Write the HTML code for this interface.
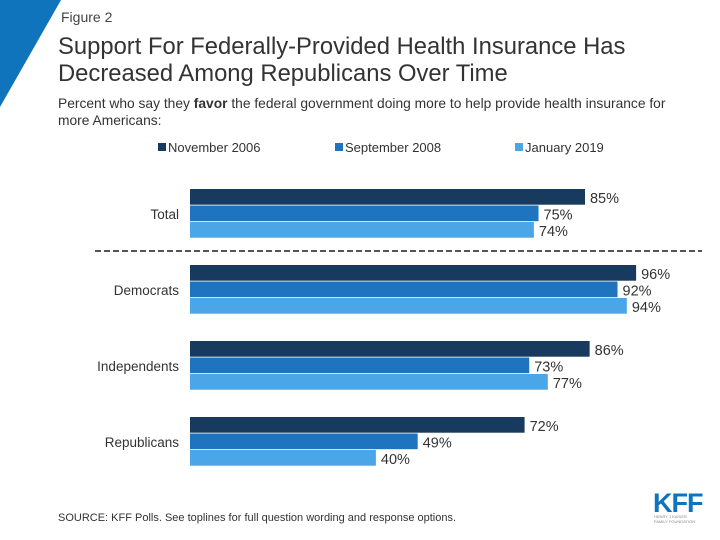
<!DOCTYPE html>
<html><head><meta charset="utf-8"><style>
body{margin:0;background:#fff;font-family:"Liberation Sans",sans-serif;}
#wrap{position:relative;width:720px;height:540px;overflow:hidden;background:#fff;}
.t{position:absolute;white-space:nowrap;color:#333;}
</style></head><body>
<div id="wrap">
<svg width="720" height="540" style="position:absolute;left:0;top:0"><polygon points="0,0 61,0 0,107" fill="#0f74bb"/></svg>
<div class="t" style="left:61px;top:9px;font-size:14px;color:#444">Figure 2</div>
<div class="t" style="left:58px;top:33px;font-size:23.8px;line-height:27px;color:#333">Support For Federally-Provided Health Insurance Has<br>Decreased Among Republicans Over Time</div>
<div class="t" style="left:58px;top:95px;font-size:13.8px;line-height:17px;color:#333">Percent who say they <b>favor</b> the federal government doing more to help provide health insurance for<br>more Americans:</div>
<svg id="chart" width="720" height="540" style="position:absolute;left:0;top:0"></svg>
<div class="t" style="left:58px;top:512px;font-size:11px;color:#333">SOURCE: KFF Polls. See toplines for full question wording and response options.</div>
<div class="t" style="left:653px;top:488px;font-size:27px;font-weight:bold;color:#0f74bb;letter-spacing:-1px">KFF</div>
<div class="t" style="left:654px;top:514px;font-size:4px;line-height:5px;color:#888">HENRY J KAISER<br>FAMILY FOUNDATION</div>
</div>
<script>
const categories=["Total","Democrats","Independents","Republicans"];
const seriesNames=["November 2006","September 2008","January 2019"];
const nov2006=[85,96,86,72];
const sep2008=[75,92,73,49];
const jan2019=[74,94,77,40];
const series=[nov2006,sep2008,jan2019];
const colors=["#173a5e","#1f74bf","#4aa6e6"];
const svg=document.getElementById('chart');
const NS="http://www.w3.org/2000/svg";
const x0=190, pxPer=4.647;
const xs=v=>x0+v*pxPer;
const groupY=i=>189+i*76;
const barH=16.5;
function mk(tag,attrs){const e=document.createElementNS(NS,tag);for(const k in attrs)e.setAttribute(k,attrs[k]);svg.appendChild(e);return e;}
const legX=[158,335,515];
seriesNames.forEach((n,s)=>{
  const r=mk('rect',{x:legX[s],y:143,width:8,height:8,fill:colors[s]});
  
  
  const t=mk('text',{x:legX[s]+10,y:152,'font-size':13,fill:'#333','font-family':'Liberation Sans, sans-serif'});
  t.textContent=n;
  
  
});
const dl=mk('line',{x1:95,x2:702,y1:251,y2:251,stroke:'#555','stroke-width':2,'stroke-dasharray':'6,3'});


categories.forEach((c,i)=>{
  const gy=groupY(i);
  const lab=mk('text',{x:179,y:gy+barH*1.5+5,'text-anchor':'end','font-size':13.5,fill:'#333','font-family':'Liberation Sans, sans-serif'});
  lab.textContent=c;
  
  
  series.forEach((arr,s)=>{
    const y=gy+s*barH;
    const r=mk('rect',{x:x0,y:y,width:xs(arr[i])-x0,height:barH-0.8,fill:colors[s]});
    
    
    const t=mk('text',{x:xs(arr[i])+5,y:y+barH/2+5.5,'font-size':14.5,fill:'#333','font-family':'Liberation Sans, sans-serif'});
    t.textContent=arr[i]+'%';
    
    
  });
});
</script>
</body></html>
